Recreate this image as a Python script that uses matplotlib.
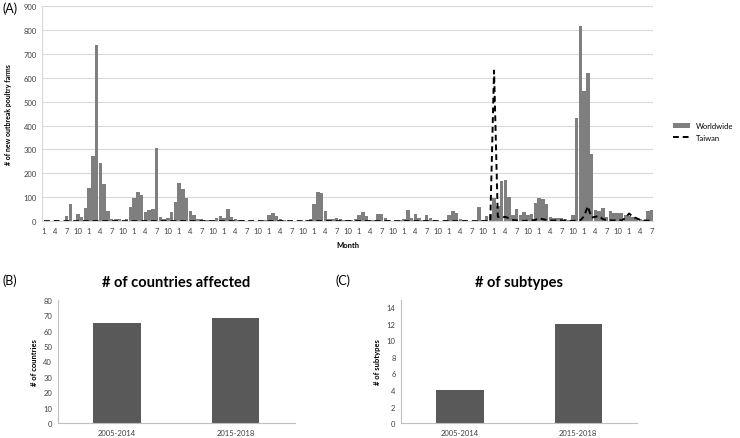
import matplotlib
matplotlib.use("Agg")
import matplotlib.pyplot as plt
import numpy as np

plt.rcParams['font.family'] = ['Lato', 'DejaVu Sans']

# monthly new outbreak poultry farms, Jan 2005 - Jul 2018
worldwide = [
    2, 2, 1, 3, 2, 0, 22, 72, 1, 30, 18, 57,            # 2005
    137, 271, 737, 245, 155, 44, 10, 7, 7, 2, 10, 58,    # 2006
    96, 121, 110, 40, 46, 50, 304, 17, 8, 14, 40, 79,    # 2007
    160, 135, 97, 44, 26, 10, 8, 3, 4, 2, 12, 22,        # 2008
    15, 50, 18, 7, 5, 3, 2, 2, 2, 1, 2, 5,               # 2009
    24, 35, 21, 10, 5, 2, 2, 1, 2, 2, 5, 8,              # 2010
    72, 121, 117, 44, 8, 10, 12, 8, 4, 3, 5, 10,         # 2011
    24, 37, 22, 5, 5, 29, 29, 15, 3, 2, 2, 5,            # 2012
    8, 47, 14, 29, 15, 3, 24, 15, 3, 2, 2, 3,            # 2013
    24, 42, 35, 8, 3, 2, 2, 2, 58, 3, 22, 28,            # 2014
    95, 62, 168, 172, 102, 27, 50, 25, 38, 24, 28, 77,   # 2015
    96, 92, 71, 17, 15, 12, 12, 8, 3, 25, 430, 818,      # 2016
    545, 620, 280, 48, 42, 54, 18, 42, 35, 35, 32, 26,   # 2017
    22, 17, 10, 7, 5, 42, 45,                            # 2018
]
taiwan = [0] * 120 + [
    630, 18, 15, 18, 12, 5, 3, 1, 1, 2, 3, 5,            # 2015
    12, 8, 5, 3, 2, 4, 3, 2, 1, 1, 2, 3,                 # 2016
    20, 62, 15, 18, 22, 8, 5, 3, 3, 5, 3, 12,            # 2017
    32, 18, 12, 5, 3, 2, 3,                              # 2018
]
month_labels = ['1', '4', '7', '10']

periods = ['2005-2014', '2015-2018']
countries = [65, 68]
subtypes = [4, 12]

fig = plt.figure(figsize=(7.4, 4.39), dpi=100)

# (A) monthly outbreaks
ax = fig.add_axes([0.057, 0.494, 0.826, 0.49])
x = np.arange(len(worldwide))
bars = ax.bar(x, worldwide, width=0.95, color='#7f7f7f', label='Worldwide', zorder=2)
line, = ax.plot(x, taiwan, color='black', lw=1.4, ls=(0, (3, 2)), label='Taiwan', zorder=3)
ax.set_xlim(-0.5, len(worldwide) - 0.5)
ax.set_ylim(0, 900)
ax.set_yticks(range(0, 901, 100))
ticks = x[::3]
ax.set_xticks(ticks)
ax.set_xticklabels([month_labels[i % 4] for i in range(len(ticks))])
ax.tick_params(length=0, labelsize=5.5, colors='#404040', pad=4)
ax.grid(axis='y', color='#d9d9d9', lw=0.8, zorder=0)
for s in ['top', 'right']:
    ax.spines[s].set_visible(False)
for s in ['left', 'bottom']:
    ax.spines[s].set_color('#d9d9d9')
ax.set_ylabel('# of new outbreak poultry farms', fontsize=5, fontweight='bold', labelpad=8)
ax.set_xlabel('Month', fontsize=5.5, fontweight='bold', labelpad=5)
fig.legend([bars, line], ['Worldwide', 'Taiwan'], loc='upper left',
           bbox_to_anchor=(0.9, 0.735), frameon=False,
           fontsize=5.5, handlelength=2.2, labelspacing=0.6)
fig.text(0.003, 0.995, '(A)', fontsize=9, va='top')


def small_panel(rect, values, ylabel, title, ymax, step):
    a = fig.add_axes(rect)
    a.bar([0, 1], values, width=0.4, color='#595959', zorder=2)
    a.set_xlim(-0.5, 1.5)
    a.set_ylim(0, ymax)
    a.set_yticks(np.arange(0, ymax + 0.01, step))
    a.set_xticks([0, 1])
    a.set_xticklabels(periods)
    a.tick_params(length=0, labelsize=5.5, colors='#404040', pad=4)
    for s in ['top', 'right']:
        a.spines[s].set_visible(False)
    for s in ['left', 'bottom']:
        a.spines[s].set_color('#bfbfbf')
    a.set_ylabel(ylabel, fontsize=5.5, fontweight='bold', labelpad=4)
    a.set_title(title, fontsize=10.5, fontweight='bold', pad=10)
    return a


small_panel([0.078, 0.034, 0.32, 0.281], countries, '# of countries',
            '# of countries affected', 80, 10)
ax_c = small_panel([0.542, 0.034, 0.319, 0.281], subtypes, '# of subtypes',
                   '# of subtypes', 14, 2)
ax_c.set_ylim(0, 14.9)

fig.text(0.003, 0.36, '(B)', fontsize=9, va='center')
fig.text(0.454, 0.36, '(C)', fontsize=9, va='center')

fig.savefig('out.png', dpi=100)
